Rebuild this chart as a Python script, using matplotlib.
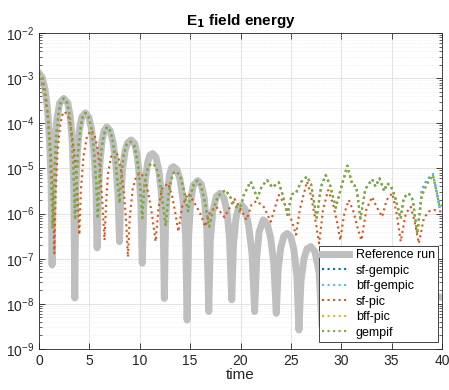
import numpy as np
import matplotlib
matplotlib.use('Agg')
import matplotlib.pyplot as plt
from matplotlib.ticker import LogLocator, NullFormatter

plt.rcParams['font.family'] = ['Liberation Sans', 'DejaVu Sans']

# values, y given as log10(energy)
ref_t = [0, 0.3, 0.6, 0.85, 1.05, 1.2, 1.3, 1.4, 1.55, 1.75, 2.05, 2.45, 2.85, 3.1, 3.3, 3.45, 3.55,
         3.65, 3.8, 4.0, 4.25, 4.6, 4.95, 5.2, 5.45, 5.65, 5.77, 5.9, 6.05, 6.25, 6.45, 6.73, 7.05,
         7.35, 7.6, 7.85, 7.99, 8.1, 8.3, 8.55, 8.8, 9.15, 9.5, 9.75, 9.95, 10.12, 10.25, 10.38,
         10.55, 10.8, 11.0, 11.28, 11.6, 11.9, 12.15, 12.33, 12.44, 12.55, 12.7, 12.95, 13.15,
         13.33, 13.7, 14.0, 14.3, 14.55, 14.7, 14.85, 15.05, 15.3, 15.75, 16.1, 16.4, 16.65, 16.85,
         17.0, 17.25, 17.6, 17.98, 18.35, 18.65, 18.9, 19.13, 19.3, 19.55, 19.8, 20.1, 20.45, 20.8,
         21.15, 21.4, 21.6, 21.85, 22.26, 22.65, 23.0, 23.3, 23.55, 23.75, 24.0, 24.3, 24.64, 25.0,
         25.3, 25.6, 25.8, 26.0, 26.3, 26.6, 26.97, 27.4, 27.8, 28.1, 28.5, 29.0, 29.6, 30.3, 30.8,
         31.4, 32.0, 32.6, 33.2, 33.8, 34.4, 35.0, 35.6, 36.3, 37.0, 37.6, 38.3, 39.0, 39.6, 40]
ref_e = [-2.89, -2.98, -3.25, -3.7, -4.4, -5.3, -7.14, -5.4, -4.5, -3.95, -3.55, -3.45, -3.55, -3.85,
         -4.4, -5.4, -7.87, -5.5, -4.65, -4.15, -3.86, -3.77, -3.87, -4.12, -4.6, -5.4, -6.76, -5.5,
         -4.85, -4.4, -4.17, -4.08, -4.16, -4.42, -4.85, -5.6, -6.62, -5.7, -5.0, -4.6, -4.43, -4.37,
         -4.45, -4.72, -5.15, -5.85, -7.1, -5.9, -5.25, -4.85, -4.71, -4.67, -4.75, -5.05, -5.55,
         -6.3, -7.88, -6.3, -5.6, -5.15, -4.99, -4.96, -5.03, -5.25, -5.7, -6.5, -8.36, -6.5, -5.75,
         -5.38, -5.27, -5.35, -5.65, -6.3, -8.17, -6.6, -5.95, -5.62, -5.55, -5.65, -5.95, -6.5,
         -7.91, -6.7, -6.1, -5.87, -5.81, -5.9, -6.25, -6.9, -8.17, -7.0, -6.4, -6.14, -6.22, -6.55,
         -7.1, -8.21, -7.2, -6.75, -6.5, -6.44, -6.52, -6.8, -7.4, -8.58, -7.5, -7.0, -6.78, -6.73,
         -6.85, -7.3, -8.5, -7.4, -7.0, -7.2, -8.5, -7.4, -7.15, -7.4, -8.6, -7.6, -7.35, -7.6, -8.6,
         -7.8, -7.6, -7.8, -8.6, -7.95, -7.9, -7.84, -7.86]

gem_t = [0, 0.3, 0.6, 0.85, 1.05, 1.22, 1.36, 1.5, 1.7, 1.95, 2.2, 2.45, 2.8, 3.05, 3.3, 3.47, 3.58,
         3.7, 3.9, 4.15, 4.35, 4.6, 4.95, 5.2, 5.45, 5.68, 5.84, 5.97, 6.15, 6.4, 6.75, 7.05, 7.35,
         7.6, 7.82, 7.99, 8.15, 8.4, 8.7, 9.1, 9.45, 9.75, 10.0, 10.25, 10.45, 10.7, 11.0, 11.3,
         11.65, 11.95, 12.25, 12.57, 12.8, 13.05, 13.35, 13.7, 14.05, 14.4, 14.8, 15.1, 15.4, 15.75,
         16.1, 16.5, 16.9, 17.3, 17.8, 18.5, 18.9, 19.4, 19.9, 20.3, 21.0, 21.3, 21.66, 22.1, 22.65,
         23.15, 23.8, 24.2, 24.65, 25.1, 25.5, 26.0, 26.6, 27.0, 27.56, 28.0, 28.46, 28.9, 29.45,
         29.9, 30.6, 31.1, 31.5, 31.9, 32.4, 33.07, 33.4, 33.8, 34.26, 34.56, 34.95, 35.3, 35.9,
         36.2, 36.7, 37.1, 37.55, 38.0, 38.5, 39.1, 39.5, 39.75, 40]
gem_e = [-2.89, -2.98, -3.28, -3.75, -4.45, -5.35, -6.33, -5.2, -4.3, -3.75, -3.5, -3.45, -3.55,
         -3.85, -4.45, -5.3, -6.14, -5.3, -4.55, -4.05, -3.85, -3.77, -3.87, -4.12, -4.6, -5.35,
         -6.11, -5.3, -4.7, -4.25, -4.08, -4.16, -4.42, -4.85, -5.35, -5.77, -5.2, -4.7, -4.47,
         -4.41, -4.5, -4.8, -5.3, -6.1, -5.4, -5.05, -4.92, -4.89, -4.98, -5.25, -5.7, -6.27, -5.7,
         -5.3, -5.1, -5.07, -5.2, -5.5, -5.95, -5.55, -5.32, -5.27, -5.4, -5.8, -6.29, -5.9, -5.6,
         -5.48, -5.6, -5.8, -5.95, -5.6, -5.29, -5.45, -5.66, -5.4, -5.26, -5.42, -5.31, -5.6,
         -6.03, -5.57, -5.55, -5.3, -5.18, -5.35, -6.09, -5.4, -5.15, -5.38, -5.87, -5.5, -4.94,
         -5.36, -5.4, -6.11, -5.45, -5.24, -5.4, -5.22, -5.5, -5.33, -5.4, -5.6, -6.11, -5.65, -5.55,
         -5.7, -6.45, -5.6, -5.35, -5.15, -5.55, -5.85, -5.81]
# the gempic runs part from the others only on the last rise
gempic_tail = [-5.48, -5.25, -5.13, -5.55, -5.85, -5.81]
gempic_e = gem_e[:-6] + gempic_tail

pic_t = [0, 0.3, 0.6, 0.9, 1.15, 1.38, 1.52, 1.65, 1.85, 2.1, 2.3, 2.55, 2.9, 3.2, 3.5, 3.78, 4.0,
         4.15, 4.4, 4.75, 5.15, 5.5, 5.8, 6.05, 6.3, 6.5, 6.65, 6.85, 7.15, 7.5, 7.85, 8.15, 8.45,
         8.68, 8.82, 9.0, 9.3, 9.65, 10.05, 10.45, 10.85, 11.2, 11.57, 11.85, 12.2, 12.8, 13.2,
         13.5, 13.83, 14.2, 14.8, 15.4, 16.0, 16.5, 17.0, 17.6, 18.4, 19.4, 20.0, 20.6, 21.1, 21.6,
         22.3, 23.0, 23.8, 24.4, 25.0, 25.5, 25.9, 26.6, 27.0, 27.4, 27.8, 28.2, 28.7, 29.2, 29.6,
         29.9, 30.3, 30.75, 31.2, 31.6, 32.0, 32.5, 33.07, 33.5, 34.06, 34.5, 35.06, 35.5, 35.9,
         36.4, 36.9, 37.3, 37.7, 38.2, 38.7, 39.2, 40]
pic_e = [-3.0, -3.1, -3.4, -3.9, -4.6, -5.6, -6.88, -5.5, -4.6, -4.05, -3.82, -3.74, -3.85, -4.15,
         -4.65, -5.4, -6.47, -5.5, -4.75, -4.3, -4.16, -4.25, -4.55, -5.0, -5.8, -6.59, -5.8, -5.1,
         -4.75, -4.61, -4.72, -5.05, -5.6, -6.3, -6.96, -6.1, -5.45, -5.17, -5.1, -5.2, -5.55, -6.0,
         -6.62, -5.9, -5.45, -5.33, -5.6, -5.95, -6.4, -5.85, -5.55, -5.75, -6.0, -6.29, -5.95,
         -5.85, -6.08, -5.68, -5.9, -6.14, -5.8, -5.72, -5.85, -6.18, -5.59, -5.8, -6.1, -6.47,
         -5.9, -5.29, -5.6, -6.1, -6.66, -5.9, -5.48, -5.8, -6.2, -6.59, -6.0, -5.7, -5.95, -6.3,
         -6.59, -5.9, -5.63, -5.85, -6.07, -5.7, -5.55, -6.0, -6.62, -6.0, -5.85, -6.2, -6.66, -6.1,
         -5.95, -5.92, -5.96]

labels = ['Reference run', 'sf-gempic', 'bff-gempic', 'sf-pic', 'bff-pic', 'gempif']
colors = ['#bfbfbf', '#0072BD', '#4DBEEE', '#D95319', '#EDB120', '#77AC30']

fig = plt.figure(figsize=(4.49, 3.90), dpi=100)
ax = fig.add_axes([0.0869, 0.1051, 0.8975, 0.8103])

ax.plot(ref_t, 10 ** np.array(ref_e), color=colors[0], lw=5, label=labels[0], solid_joinstyle='round')
ax.plot(gem_t, 10 ** np.array(gempic_e), ':', color=colors[1], lw=1.5, label=labels[1])
ax.plot(gem_t, 10 ** np.array(gempic_e), ':', color=colors[2], lw=1.5, label=labels[2])
ax.plot(pic_t, 10 ** np.array(pic_e), ':', color=colors[3], lw=1.5, label=labels[3])
ax.plot(gem_t, 10 ** np.array(gem_e), ':', color=colors[4], lw=1.5, label=labels[4])
ax.plot(gem_t, 10 ** np.array(gem_e), ':', color=colors[5], lw=1.5, label=labels[5])

ax.set_yscale('log')
ax.set_xlim(0, 40)
ax.set_ylim(1e-9, 1e-2)
ax.set_xticks(np.arange(0, 41, 5))
ax.yaxis.set_major_locator(LogLocator(base=10, numticks=20))
ax.yaxis.set_minor_locator(LogLocator(base=10, subs=np.arange(2, 10), numticks=20))
ax.yaxis.set_minor_formatter(NullFormatter())

axcol = '#262626'
ax.tick_params(which='both', direction='in', top=True, right=True, colors=axcol, labelsize=10)
ax.tick_params(which='major', length=4, width=0.6)
ax.tick_params(which='minor', length=2, width=0.5)
for s in ax.spines.values():
    s.set_color(axcol)
    s.set_linewidth(0.6)
ax.grid(True, which='major', color='#dedede', lw=0.6)
ax.grid(True, which='minor', axis='y', color='#e8e8e8', lw=0.5, ls=':')
ax.set_axisbelow(True)

ax.set_xlabel('time', fontsize=11, color=axcol, labelpad=0)
ax.set_title(r'E$_{\mathbf{1}}$ field energy', fontsize=11, fontweight='bold', color='black', pad=6)

leg = ax.legend(loc='lower right', bbox_to_anchor=(0.99, 0.023), fontsize=9, fancybox=False,
                framealpha=1, edgecolor=axcol, borderpad=0.25, labelspacing=0.28,
                handlelength=2.2, handletextpad=0.5, borderaxespad=0)
leg.get_frame().set_linewidth(0.6)

fig.savefig('out.png', dpi=100)
